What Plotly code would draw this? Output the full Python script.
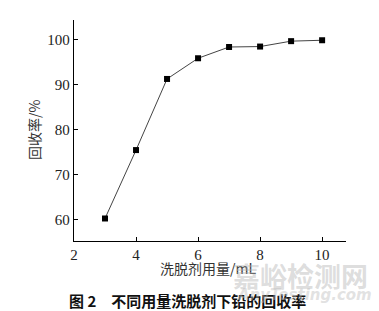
import plotly.graph_objects as go

volume = [3, 4, 5, 6, 7, 8, 9, 10]
recovery = [60.2, 75.4, 91.2, 95.8, 98.3, 98.4, 99.6, 99.8]
x_ticks = [2, 4, 6, 8, 10]
y_ticks = [60, 70, 80, 90, 100]

W, H = 379, 311
L, R, T, B = 74, 33, 20, 70
pw, ph = W - L - R, H - T - B

def px(x):
    return (x - L) / pw

def py(y):
    return (H - B - y) / ph

serif = "Liberation Serif, DejaVu Serif, serif"
cjk = "Noto Sans CJK SC, sans-serif"

fig = go.Figure()
fig.add_trace(go.Scatter(
    x=volume, y=recovery, mode="lines+markers",
    line=dict(color="#444444", width=1),
    marker=dict(symbol="square", size=6, color="black"),
    showlegend=False,
))

axis_common = dict(
    showgrid=False, zeroline=False, showline=True, linecolor="black", linewidth=1.3,
    ticks="inside", ticklen=4, tickcolor="black", tickwidth=1,
    tickfont=dict(family=serif, size=15, color="#222"),
    mirror=False,
)
fig.update_xaxes(range=[2, 10.77], tickvals=x_ticks, **axis_common)
fig.update_yaxes(range=[55.2, 104.3], tickvals=y_ticks, **axis_common)

annos = [
    dict(text="回收率/%", x=px(34), y=py(130), textangle=-90,
         font=dict(family=cjk, size=14, color="#333")),
    dict(text="洗脱剂用量/mL", x=px(208), y=py(268),
         font=dict(family=cjk, size=14, color="#333")),
    dict(text="<b>图 2</b>　<b>不同用量洗脱剂下铅的回收率</b>", x=px(187), y=py(300),
         font=dict(family=cjk, size=15, color="#111")),
    dict(text="<b>嘉峪检测网</b>", x=px(300), y=py(275),
         font=dict(family=cjk, size=27, color="rgba(180,180,180,0.45)")),
    dict(text="<i><b>AnyTesting.com</b></i>", x=px(304), y=py(295),
         font=dict(family="DejaVu Sans, sans-serif", size=15, color="rgba(190,190,190,0.45)")),
]
for a in annos:
    fig.add_annotation(xref="paper", yref="paper", showarrow=False,
                       xanchor="center", yanchor="middle", **a)

fig.update_layout(
    width=W, height=H,
    margin=dict(l=L, r=R, t=T, b=B),
    plot_bgcolor="white", paper_bgcolor="white",
)
fig.write_html("out.html")
